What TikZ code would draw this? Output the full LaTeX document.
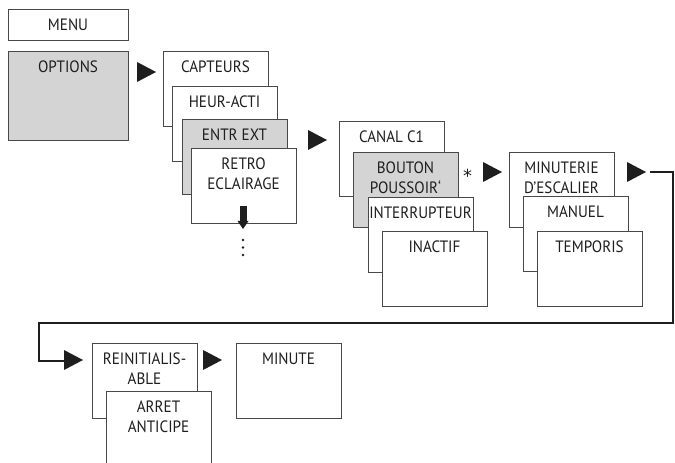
\documentclass[tikz,border=0pt]{standalone}
\usepackage{fontspec}
\setmainfont{PT Sans}[FakeStretch=0.92]
\newfontfamily\starfont{DejaVu Sans}
\usetikzlibrary{calc}
\definecolor{boxgray}{RGB}{212,212,212}
\definecolor{edge}{RGB}{72,72,72}
\definecolor{ink}{RGB}{30,30,30}
\tikzset{
  menubox/.style={draw=edge, line width=0.9bp, fill=white, anchor=north west,
    minimum width=105bp, minimum height=75bp, inner sep=0pt, outer sep=0pt},
  shaded/.style={fill=boxgray},
  caption/.style={anchor=north, inner sep=0pt, yshift=-10bp, align=center,
    font=\fontsize{16.5}{19.5}\selectfont, text=ink},
  link/.style={draw=ink, line width=2.2bp, line join=miter},
}
% filled pointer triangle: left edge x, centre line y
\newcommand\pointer[2]{\fill[ink] (#1,#2-10) -- (#1+19,#2) -- (#1,#2+10) -- cycle;}
\begin{document}
\begin{tikzpicture}[x=1bp, y=-1bp]
\useasboundingbox (0,0) rectangle (675,463);

% top level
\node[menubox, minimum width=120bp, minimum height=31bp,
      font=\fontsize{16.5}{19.5}\selectfont, text=ink] (menu) at (8,9) {MENU};
\node[menubox, shaded, minimum width=120bp, minimum height=89bp,
      label={[caption]north:OPTIONS}] (options) at (8,51) {};
\pointer{137}{72}

% options list
\node[menubox, label={[caption]north:CAPTEURS}] (capteurs) at (163,51) {};
\node[menubox, label={[caption]north:HEUR-ACTI}] (heur) at (172,86) {};
\node[menubox, shaded, label={[caption]north:ENTR EXT}] (entr) at (182,119) {};
\node[menubox, label={[caption]north:{RETRO\\ECLAIRAGE}}] (retro) at (191,148) {};
\fill[ink] (239.5,206) rectangle (246.5,222);
\fill[ink] (237.5,221) -- (248.5,221) -- (243,229) -- cycle;
\foreach \yy in {240,247.5,255} \fill[ink] (243,\yy) circle (1.4);
\pointer{308}{140}

% channel list
\node[menubox, label={[caption]north:CANAL C1}] (canal) at (339,121) {};
\node[menubox, shaded, label={[caption]north:{BOUTON\\POUSSOIR\symbol{96}}}] (bouton) at (353,152) {};
\node[menubox, label={[caption]north:INTERRUPTEUR}] (inter) at (368,197) {};
\node[menubox, label={[caption]north:INACTIF}] (inactif) at (382,231) {};
\node[font=\starfont\fontsize{18}{20}\selectfont, text=ink, inner sep=0pt,
      anchor=base] (star) at (467.5,183) {*};
\pointer{483}{172}

% function list
\node[menubox, label={[caption]north:{MINUTERIE\\D'ESCALIER}}] (minuterie) at (509,152) {};
\node[menubox, label={[caption]north:MANUEL}] (manuel) at (523,196) {};
\node[menubox, label={[caption]north:TEMPORIS}] (temporis) at (537,231) {};
\pointer{627}{172}

% return line to the second row
\coordinate (lineStart) at (650,172);
\coordinate (cornerA) at (673,172);
\coordinate (cornerB) at (673,323);
\coordinate (cornerC) at (39,323);
\coordinate (cornerD) at (39,361);
\coordinate (lineEnd) at (65,361);
\draw[link] (lineStart) -- (cornerA) -- (cornerB) -- (cornerC) -- (cornerD) -- (lineEnd);
\pointer{64}{360}

% second row
\node[menubox, label={[caption]north:{REINITIALIS-\\ABLE}}] (reinit) at (92,343) {};
\node[menubox, label={[caption]north:{ARRET\\ANTICIPE}}] (arret) at (106,391) {};
\pointer{203}{360}
\node[menubox, label={[caption]north:MINUTE}] (minute) at (236,343) {};
\end{tikzpicture}
\end{document}
